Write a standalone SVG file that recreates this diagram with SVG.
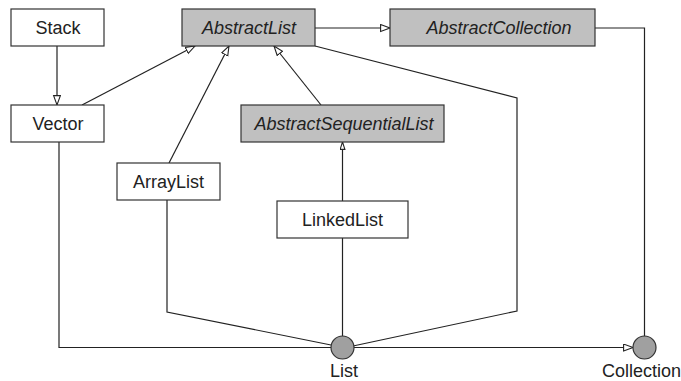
<svg xmlns="http://www.w3.org/2000/svg" width="681" height="381" viewBox="0 0 681 381">
<style>
.box{fill:#fff;stroke:#333;stroke-width:1.2}
.abs{fill:#c0c0c0;stroke:#333;stroke-width:1.2}
.iface{fill:#a0a0a0;stroke:#333;stroke-width:1.2}
.t{font-family:"Liberation Sans",Arial,sans-serif;font-size:18px;fill:#222;text-anchor:middle}
.i{font-style:italic}
.c{fill:none;stroke:#222;stroke-width:1.2}
</style>
<defs>
<marker id="tri" markerUnits="userSpaceOnUse" markerWidth="12" markerHeight="10" refX="10" refY="4" orient="auto">
<path d="M0.6,0.6 L10,4 L0.6,7.4 z" fill="#fff" stroke="#222" stroke-width="1.1"/>
</marker>
<marker id="tris" markerUnits="userSpaceOnUse" markerWidth="10" markerHeight="8" refX="8" refY="3" orient="auto">
<path d="M0.6,0.6 L8,3 L0.6,5.4 z" fill="#fff" stroke="#222" stroke-width="1.1"/>
</marker>
</defs>
<g id="connectors">
<path class="c" d="M57,46 L57,105" marker-end="url(#tri)"/>
<path class="c" d="M82,105 L195,46" marker-end="url(#tri)"/>
<path class="c" d="M169,163 L229,46" marker-end="url(#tri)"/>
<path class="c" d="M321,105 L274,46" marker-end="url(#tri)"/>
<path class="c" d="M315,28 L390,28" marker-end="url(#tri)"/>
<path class="c" d="M315,46 L517,98 L517,311 L353,346"/>
<path class="c" d="M595,28 L644.5,28 L644.5,336"/>
<path class="c" d="M342.5,201 L342.5,142" marker-end="url(#tris)"/>
<path class="c" d="M342.5,238 L342.5,336"/>
<path class="c" d="M167,200 L167,312 L331,345"/>
<path class="c" d="M59,142 L59,347.5 L331,347.5"/>
<path class="c" d="M354,347.5 L633,347.5" marker-end="url(#tri)"/>
</g>
<g id="Stack"><rect class="box" x="11" y="9" width="93" height="37"/><text class="t" x="58" y="34">Stack</text></g>
<g id="AbstractList"><rect class="abs" x="182" y="9" width="133" height="37"/><text class="t i" x="249" y="34">AbstractList</text></g>
<g id="AbstractCollection"><rect class="abs" x="390" y="9" width="205" height="37"/><text class="t i" x="499" y="34">AbstractCollection</text></g>
<g id="Vector"><rect class="box" x="11" y="105" width="93" height="37"/><text class="t" x="58" y="130">Vector</text></g>
<g id="AbstractSequentialList"><rect class="abs" x="241" y="105" width="203" height="37"/><text class="t i" x="344" y="130">AbstractSequentialList</text></g>
<g id="ArrayList"><rect class="box" x="117" y="163" width="103" height="37"/><text class="t" x="168.5" y="188">ArrayList</text></g>
<g id="LinkedList"><rect class="box" x="277" y="201" width="131" height="37"/><text class="t" x="342.5" y="226">LinkedList</text></g>
<g id="List"><circle class="iface" cx="342.5" cy="347.5" r="11.5"/><text class="t" x="344" y="377">List</text></g>
<g id="Collection"><circle class="iface" cx="644.5" cy="347.5" r="11.5"/><text class="t" x="602" y="377" style="text-anchor:start">Collection</text></g>
</svg>
